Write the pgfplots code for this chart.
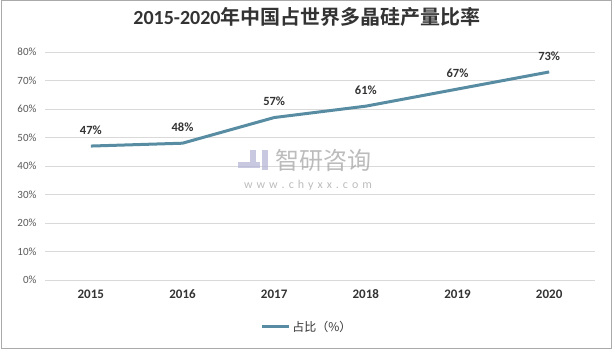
\documentclass[border=0pt]{standalone}
\usepackage{pgfplots}
\pgfplotsset{compat=1.18}
\usepackage{fontspec}
\setmainfont{Carlito}
\newfontfamily\cjk{Noto Sans CJK SC}[BoldFont={Noto Sans CJK SC Bold}]
\definecolor{linec}{RGB}{88,140,162}
\definecolor{gridc}{RGB}{217,217,217}
\definecolor{tickc}{RGB}{89,89,89}
\definecolor{framec}{RGB}{170,170,170}
\begin{document}
\begin{tikzpicture}
\begin{axis}[
  scale only axis, width=550pt, height=228pt,
  xmin=-0.5, xmax=5.5, ymin=0, ymax=80,
  axis line style={draw=none},
  xtick={0,...,5},
  xticklabels={2015,2016,2017,2018,2019,2020},
  ytick={0,10,...,80},
  yticklabels={0\%,10\%,20\%,30\%,40\%,50\%,60\%,70\%,80\%},
  major tick length=0pt,
  ymajorgrids, grid style={gridc, line width=0.8pt},
  yticklabel style={font=\fontsize{11}{12}\selectfont, text=tickc, xshift=-5pt},
  xticklabel style={font=\fontsize{13}{15}\selectfont\bfseries, text=black!80, yshift=-6pt},
  legend style={at={(0.476,-0.206)}, anchor=center, draw=none, fill=none,
    font=\cjk\fontsize{12}{14}\selectfont, text=black!80},
  legend image code/.code={\draw[#1] (0pt,0pt) -- (27pt,0pt);},
  clip=false,
]
\coordinate (O) at (rel axis cs:0,0);
\addplot[linec, line width=3pt, mark=none,
  point meta=explicit symbolic,
  nodes near coords,
  nodes near coords style={font=\fontsize{12.5}{14}\selectfont\bfseries, text=black!80, anchor=center, yshift=16pt}]
coordinates {(0,47) [47\%] (1,48) [48\%] (2,57) [57\%] (3,61) [61\%] (4,67) [67\%] (5,73) [73\%]};
\addlegendentry{占比（\%）}
\end{axis}
\begin{scope}[shift={(O)}, xshift=-45pt, yshift=-72pt, x=1pt, y=1pt]
\path (0,0) rectangle (615,352);
\draw[framec, line width=1pt] (1.5,3.5) rectangle (611,351);
\node[font=\fontsize{20}{22}\selectfont\bfseries, text=black!80] at (307,335) {2015-2020{\cjk 年中国占世界多晶硅产量比率}};
% watermark
\begin{scope}[opacity=0.75]
\node[font=\cjk\fontsize{24}{26}\selectfont, text=black!35] at (323,192) {智研咨询};
\fill[blue!30!gray!45] (238,184) rectangle (260,190);
\fill[blue!30!gray!45] (250,190) rectangle (256,202);
\fill[blue!30!gray!45] (262,182) rectangle (268,202);
\node[font=\fontsize{12}{14}\selectfont, text=black!35] at (308,167) {w\,\,w\,\,w\,\,.\,\,c\,\,h\,\,y\,\,x\,\,x\,\,.\,\,c\,\,o\,\,m};
\end{scope}
\end{scope}
\end{tikzpicture}
\end{document}
